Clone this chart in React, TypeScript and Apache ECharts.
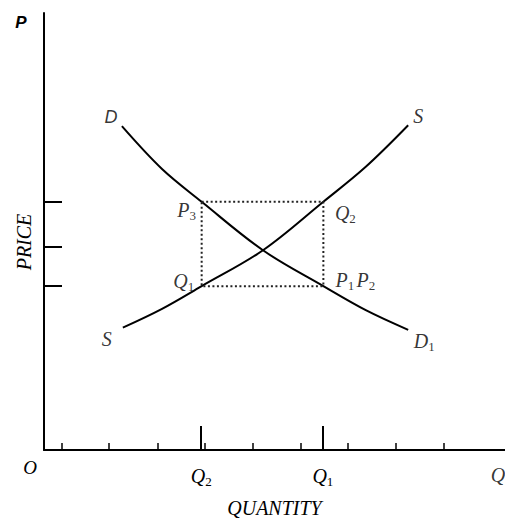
import React, { useEffect, useRef } from "react";
import * as echarts from "echarts";

// Quantity axis: 0..10, Price axis: 0..10
const minorTicksX = [0.39, 1.41, 2.47, 3.49, 4.53, 5.57, 6.59, 7.64, 8.68];
const qTicks = [3.41, 6.05];
const qLabels = ["Q|2", "Q|1"];
const qAxisEnd = 10;
const priceTicks = [3.75, 4.66, 5.68];

const demandX = [1.69, 2.56, 3.42, 4.75, 6.06, 6.98, 7.9];
const demandY = [7.41, 6.43, 5.68, 4.57, 3.75, 3.2, 2.75];
const supplyX = [1.71, 2.56, 3.42, 4.75, 6.06, 6.98, 7.9];
const supplyY = [2.8, 3.23, 3.75, 4.57, 5.68, 6.48, 7.43];

const rectX = [3.42, 6.06, 6.06, 3.42, 3.42];
const rectY = [5.68, 5.68, 3.75, 3.75, 5.68];

const INK = "#000";
const SERIF = "'Liberation Serif', 'DejaVu Serif', serif";
const SANS = "'Liberation Sans', Arial, sans-serif";

const rich = {
  i: { fontFamily: SERIF, fontStyle: "italic", fontSize: 20, color: INK },
  d: { fontFamily: SANS, fontStyle: "italic", fontSize: 18, color: INK },
  s: { fontFamily: SERIF, fontSize: 13, color: INK, padding: [11, 0, 0, 0] },
  g: { fontSize: 8 },
};

function lab(main: string, sub: string, st = "i") {
  return sub ? `{${st}|${main}}{s|${sub}}` : `{${st}|${main}}`;
}

export default function App() {
  const ref = useRef<HTMLDivElement>(null);
  useEffect(() => {
    if (!ref.current) return;
    const chart = echarts.init(ref.current, null, { renderer: "svg" });
    const zip = (xs: number[], ys: number[]) => xs.map((x, i) => [x, ys[i]]);
    const dl = demandX.length - 1;
    const sl = supplyX.length - 1;
    const annotations = [
      { value: [demandX[0], demandY[0]], text: lab("D", "", "d"), offset: [-11, -9] },
      { value: [demandX[dl], demandY[dl]], text: lab("D", "1"), offset: [16, 11] },
      { value: [supplyX[0], supplyY[0]], text: lab("S", ""), offset: [-16, 11] },
      { value: [supplyX[sl], supplyY[sl]], text: lab("S", ""), offset: [10, -9] },
      { value: [rectX[0], rectY[0]], text: lab("P", "3"), offset: [-15, 8] },
      { value: [rectX[1], rectY[1]], text: lab("Q", "2"), offset: [22, 11] },
      { value: [rectX[3], rectY[3]], text: lab("Q", "1"), offset: [-18, -5] },
      { value: [rectX[2], rectY[2]], text: lab("P", "1") + "{g| }" + lab("P", "2"), offset: [32, -6] },
      { value: [qAxisEnd, 0], text: lab("Q", ""), offset: [-7, 25] },
    ];
    chart.setOption({
      animation: false,
      grid: { left: 44, right: 0, top: 13, bottom: 70, containLabel: false },
      xAxis: [
        {
          type: "value",
          position: "bottom",
          min: 0,
          max: qAxisEnd,
          axisLine: { show: true, lineStyle: { color: INK, width: 2 } },
          axisTick: { show: true, inside: true, length: 7, customValues: minorTicksX, lineStyle: { color: INK, width: 1.5 } },
          axisLabel: { show: false },
          splitLine: { show: false },
          name: "QUANTITY",
          nameLocation: "middle",
          nameGap: 48,
          nameTextStyle: { fontFamily: SERIF, fontStyle: "italic", fontSize: 20, color: INK },
        },
        {
          type: "value",
          position: "bottom",
          min: 0,
          max: qAxisEnd,
          axisLine: { show: false },
          axisTick: { show: true, inside: true, length: 24, customValues: qTicks, lineStyle: { color: INK, width: 2 } },
          axisLabel: {
            show: true,
            customValues: qTicks,
            margin: 14,
            formatter: (v: number) => {
              const idx = qTicks.findIndex((t) => Math.abs(t - v) < 1e-6);
              if (idx < 0) return "";
              const [m, s] = qLabels[idx].split("|");
              return lab(m, s);
            },
            rich,
          },
          splitLine: { show: false },
        },
      ],
      yAxis: {
        type: "value",
        min: 0,
        max: 10,
        axisLine: { show: true, lineStyle: { color: INK, width: 2 } },
        axisTick: { show: true, inside: true, length: 18, customValues: priceTicks, lineStyle: { color: INK, width: 2 } },
        axisLabel: { show: false },
        splitLine: { show: false },
      },
      graphic: [
        { type: "text", x: 21, y: 22, style: { text: "P", font: `italic bold 17px ${SANS}`, fill: INK, align: "center", verticalAlign: "middle" } },
        { type: "text", x: 30, y: 467, style: { text: "O", font: `italic 19px ${SERIF}`, fill: INK, align: "center", verticalAlign: "middle" } },
        {
          type: "text",
          x: 24,
          y: 242,
          rotation: Math.PI / 2,
          style: { text: "PRICE", font: `italic 20px ${SERIF}`, fill: INK, align: "center", verticalAlign: "middle" },
        },
      ],
      series: [
        {
          type: "line",
          data: zip(demandX, demandY),
          smooth: 0.35,
          showSymbol: false,
          lineStyle: { color: INK, width: 2 },
        },
        {
          type: "line",
          data: zip(supplyX, supplyY),
          smooth: 0.35,
          showSymbol: false,
          lineStyle: { color: INK, width: 2 },
        },
        {
          type: "line",
          data: zip(rectX, rectY),
          showSymbol: false,
          lineStyle: { color: "#222", width: 2, type: [2, 2.5] },
        },
        {
          type: "scatter",
          symbolSize: 0,
          data: annotations.map((a) => ({
            value: a.value,
            label: { show: true, position: "inside", offset: a.offset, formatter: a.text, rich },
          })),
        },
      ],
    });
    return () => chart.dispose();
  }, []);
  return <div ref={ref} style={{ position: "absolute", left: 0, top: 0, width: 505, height: 523 }} />;
}
